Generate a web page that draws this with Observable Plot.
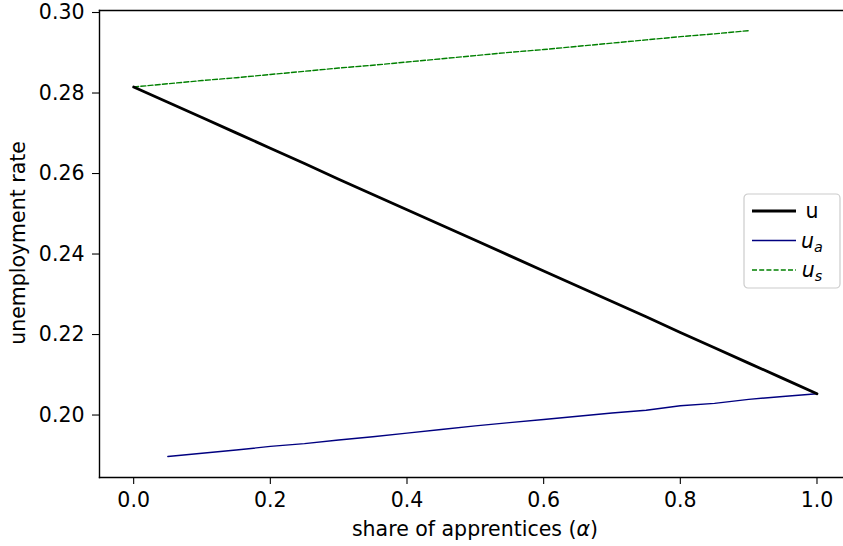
<!DOCTYPE html>
<html>
<head>
<meta charset="utf-8">
<script src="https://cdn.jsdelivr.net/npm/d3@7"></script>
<script src="https://cdn.jsdelivr.net/npm/@observablehq/plot@0.6"></script>
<style>
  html, body { margin: 0; padding: 0; background: #fff; }
  #chart { position: relative; width: 843px; height: 546px; overflow: hidden; }
</style>
</head>
<body>
<div id="chart"></div>
<script>
// share of apprentices (alpha)
const alphaU  = [0, 0.05, 0.1, 0.15, 0.2, 0.25, 0.3, 0.35, 0.4, 0.45, 0.5, 0.55, 0.6, 0.65, 0.7, 0.75, 0.8, 0.85, 0.9, 0.95, 1.0];
const uValues = [0.2815, 0.2777, 0.2739, 0.2701, 0.2663, 0.2625, 0.2586, 0.2548, 0.2510, 0.2472, 0.2434, 0.2396, 0.2358, 0.2320, 0.2282, 0.2244, 0.2205, 0.2167, 0.2129, 0.2091, 0.2053];

const alphaA  = [0.05, 0.1, 0.15, 0.2, 0.25, 0.3, 0.35, 0.4, 0.45, 0.5, 0.55, 0.6, 0.65, 0.7, 0.75, 0.8, 0.85, 0.9, 0.95, 1.0];
const uaValues = [0.1897, 0.1905, 0.1913, 0.1922, 0.1929, 0.1938, 0.1946, 0.1955, 0.1964, 0.1973, 0.1981, 0.1989, 0.1997, 0.2005, 0.2012, 0.2023, 0.2029, 0.2039, 0.2046, 0.2053];

const alphaS  = [0, 0.05, 0.1, 0.15, 0.2, 0.25, 0.3, 0.35, 0.4, 0.45, 0.5, 0.55, 0.6, 0.65, 0.7, 0.75, 0.8, 0.85, 0.9];
const usValues = [0.2815, 0.2823, 0.2831, 0.2838, 0.2846, 0.2854, 0.2862, 0.2869, 0.2877, 0.2885, 0.2893, 0.2901, 0.2908, 0.2916, 0.2924, 0.2932, 0.2940, 0.2947, 0.2955];

const xTicks = [0.0, 0.2, 0.4, 0.6, 0.8, 1.0];
const yTicks = [0.20, 0.22, 0.24, 0.26, 0.28, 0.30];

const seriesNames = ["u", "u_a", "u_s"];
const seriesColors = ["#000000", "#000080", "#008000"];

const uData  = alphaU.map((a, i) => ({alpha: a, value: uValues[i]}));
const uaData = alphaA.map((a, i) => ({alpha: a, value: uaValues[i]}));
const usData = alphaS.map((a, i) => ({alpha: a, value: usValues[i]}));

const FONT = "DejaVu Sans";
const FS = 20.5;

const xDomain = [-0.05, 1.0388];
const yDomain = [0.18448, 0.3005];

const plot = Plot.plot({
  width: 843,
  height: 546,
  marginLeft: 99,
  marginRight: 0,
  marginTop: 10,
  marginBottom: 69,
  style: {fontFamily: FONT, fontSize: FS + "px", color: "#000", background: "#fff"},
  x: {domain: xDomain},
  y: {domain: yDomain},
  marks: [
    Plot.axisX({ticks: xTicks, tickFormat: d3.format(".1f"), tickSize: 7, tickPadding: 8, label: null, fontSize: FS, stroke: "#000", strokeWidth: 1.1, strokeOpacity: 1}),
    Plot.axisY({ticks: yTicks, tickFormat: d3.format(".2f"), tickSize: 7, tickPadding: 8, label: null, fontSize: FS, stroke: "#000", strokeWidth: 1.1, strokeOpacity: 1}),
    Plot.line(usData, {x: "alpha", y: "value", stroke: seriesColors[2], strokeWidth: 1.4, strokeDasharray: "5,2.2"}),
    Plot.line(uaData, {x: "alpha", y: "value", stroke: seriesColors[1], strokeWidth: 1.4}),
    Plot.line(uData, {x: "alpha", y: "value", stroke: seriesColors[0], strokeWidth: 2.8}),
    Plot.frame({anchor: "left", stroke: "#000", strokeWidth: 1.4}),
    Plot.frame({anchor: "top", stroke: "#000", strokeWidth: 1.4}),
    Plot.frame({anchor: "bottom", stroke: "#000", strokeWidth: 1.4})
  ]
});

document.getElementById("chart").appendChild(plot);

const svg = d3.select(plot);

// x axis label
const xl = svg.append("text")
  .attr("x", 475).attr("y", 536)
  .attr("text-anchor", "middle")
  .attr("font-family", FONT).attr("font-size", FS).attr("fill", "#000");
xl.append("tspan").text("share of apprentices (");
xl.append("tspan").attr("font-style", "italic").text("α");
xl.append("tspan").text(")");

// y axis label
svg.append("text")
  .attr("transform", "translate(25,243) rotate(-90)")
  .attr("text-anchor", "middle")
  .attr("font-family", FONT).attr("font-size", FS).attr("fill", "#000")
  .text("unemployment rate");

// legend
const lg = svg.append("g").attr("transform", "translate(744,194)");
lg.append("rect").attr("width", 96).attr("height", 94).attr("rx", 4)
  .attr("fill", "#fff").attr("fill-opacity", 0.8).attr("stroke", "#ccc").attr("stroke-width", 1.2);
const legendRows = [
  {name: seriesNames[0], color: seriesColors[0], w: 2.8, dash: null, sub: null},
  {name: seriesNames[1], color: seriesColors[1], w: 1.4, dash: null, sub: "a"},
  {name: seriesNames[2], color: seriesColors[2], w: 1.4, dash: "5,2.2", sub: "s"}
];
legendRows.forEach((r, i) => {
  const cy = 17 + i * 29.5;
  const ln = lg.append("line").attr("x1", 8).attr("x2", 52).attr("y1", cy).attr("y2", cy)
    .attr("stroke", r.color).attr("stroke-width", r.w);
  if (r.dash) ln.attr("stroke-dasharray", r.dash);
  const t = lg.append("text").attr("x", 68).attr("y", cy + 7)
    .attr("font-family", FONT).attr("font-size", FS).attr("fill", "#000");
  if (r.sub) {
    t.append("tspan").attr("font-style", "italic").text("u");
    t.append("tspan").attr("font-style", "italic").attr("font-size", FS * 0.7).attr("dy", 4).text(r.sub);
  } else {
    t.text("u");
  }
});
</script>
</body>
</html>
